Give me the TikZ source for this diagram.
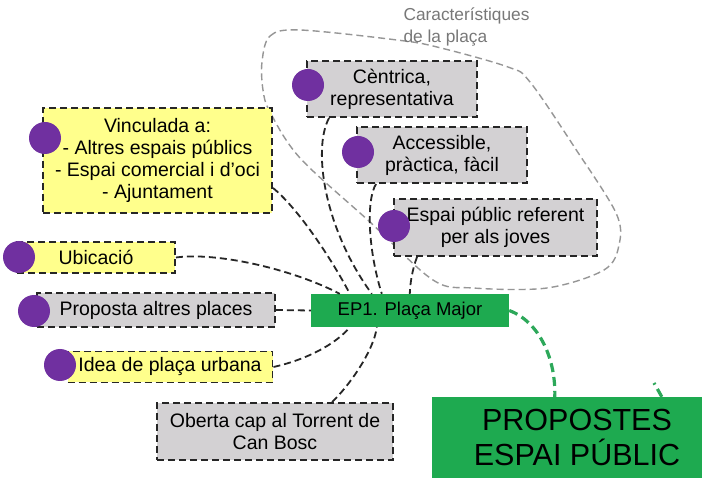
\documentclass[tikz,border=0pt]{standalone}
\usepackage{fontspec}
\setmainfont{Liberation Sans}
\definecolor{yfill}{RGB}{255,255,140}
\definecolor{gfill}{RGB}{211,209,211}
\definecolor{dotc}{RGB}{112,48,160}
\definecolor{boxgreen}{RGB}{30,170,80}
\definecolor{linkgreen}{RGB}{45,168,90}
\definecolor{blobgray}{RGB}{150,150,150}
\definecolor{captgray}{RGB}{120,120,120}
\begin{document}
\begin{tikzpicture}[x=1pt,y=-1pt,
  box/.style={draw=black!85, dash pattern=on 7pt off 4pt, line width=1.9pt, align=center,
    inner sep=0pt, font=\fontsize{19.5}{22}\selectfont, text=black},
  ybox/.style={box, fill=yfill},
  gbox/.style={box, fill=gfill},
  dot/.style={circle, fill=dotc, draw=none, minimum size=32pt, inner sep=0pt},
  link/.style={draw=black!85, dash pattern=on 7pt off 4pt, line width=1.8pt},
  glink/.style={draw=linkgreen, dash pattern=on 9pt off 5pt, line width=3.2pt},
  blob/.style={draw=blobgray, dash pattern=on 7pt off 4pt, line width=1.4pt},
  greenbox/.style={fill=boxgreen, draw=none, align=center, inner sep=0pt, text=black}
]
\path[use as bounding box, fill=white] (0,0) rectangle (702,478);
\clip (0,0) rectangle (702,478);

% grouping outline
\draw[blob] plot[smooth cycle, tension=0.55] coordinates {
  (262,62) (270,36) (300,30) (397,40) (437,47) (508,67) (530,82) (575,148)
  (616,213) (619,245) (604,270) (547,288) (473,288) (433,280) (370,222)
  (300,158) (270,112) (263,90)};
\node[anchor=west, align=left, text=captgray, font=\fontsize{17.3}{22}\selectfont] (capt) at (400,27)
  {Característiques\\de la plaça};

% nodes
\node[ybox, minimum width=229pt, minimum height=105pt] (vinc) at (157.5,160.5)
  {Vinculada a:\\- Altres espais públics\\- Espai comercial i d’oci\\- Ajuntament};
\node[ybox, minimum width=158pt, minimum height=31pt] (ubic) at (96,257.5) {Ubicació};
\node[gbox, minimum width=238pt, minimum height=34pt] (prop) at (156,310) {Proposta altres places};
\node[ybox, minimum width=205pt, minimum height=31pt] (idea) at (170,367) {Idea de plaça urbana};
\node[gbox, minimum width=236pt, minimum height=57pt] (ober) at (275,431.5) {Oberta cap al Torrent de\\Can Bosc};
\node[gbox, minimum width=170pt, minimum height=56pt] (cent) at (392,89) {Cèntrica,\\representativa};
\node[gbox, minimum width=170pt, minimum height=56pt] (acc) at (442,155) {Accessible,\\pràctica, fàcil};
\node[gbox, minimum width=203pt, minimum height=57pt] (ref) at (495.5,227.5) {Espai públic referent\\per als joves};
\node[greenbox, minimum width=198pt, minimum height=33pt, font=\fontsize{18.5}{22}\selectfont] (ep1) at (410,310.5) {EP1. Plaça Major};
\node[greenbox, minimum width=290pt, minimum height=81pt, font=\fontsize{30.5}{35}\selectfont] (pp) at (577,437.5) {PROPOSTES\\ESPAI PÚBLIC};

% purple dots
\node[dot] (d1) at (45,138) {};
\node[dot] (d2) at (19,257) {};
\node[dot] (d3) at (34,311) {};
\node[dot] (d4) at (60,365) {};
\node[dot] (d5) at (308,85) {};
\node[dot] (d6) at (358,152) {};
\node[dot] (d7) at (394,226) {};

% connectors
\draw[link] (ubic.east) .. controls (215,252) and (290,268) .. ([xshift=29pt]ep1.north west);
\draw[link] ([yshift=26pt]vinc.south east) .. controls (300,210) and (335,265) .. ([xshift=39pt]ep1.north west);
\draw[link] ([xshift=23pt]cent.south west) .. controls (312,150) and (325,230) .. ([xshift=61pt]ep1.north west);
\draw[link] ([xshift=20pt]acc.south west) .. controls (366,200) and (368,250) .. ([xshift=71pt]ep1.north west);
\draw[link] ([xshift=24pt]ref.south west) .. controls (412,270) and (410,285) .. ([xshift=99pt]ep1.north west);
\draw[link] (prop.east) -- (ep1.west);
\draw[link] (idea.east) .. controls (305,360) and (335,345) .. ([xshift=39pt]ep1.south west);
\draw[link] ([xshift=176pt]ober.north west) .. controls (350,385) and (374,350) .. ([xshift=66pt]ep1.south west);
\draw[glink] (ep1.east) .. controls (540,322) and (556,360) .. ([xshift=123pt]pp.north west);
\coordinate (gfree) at (654,383);
\draw[glink] ([xshift=230pt]pp.north west) -- (gfree);
\end{tikzpicture}
\end{document}
